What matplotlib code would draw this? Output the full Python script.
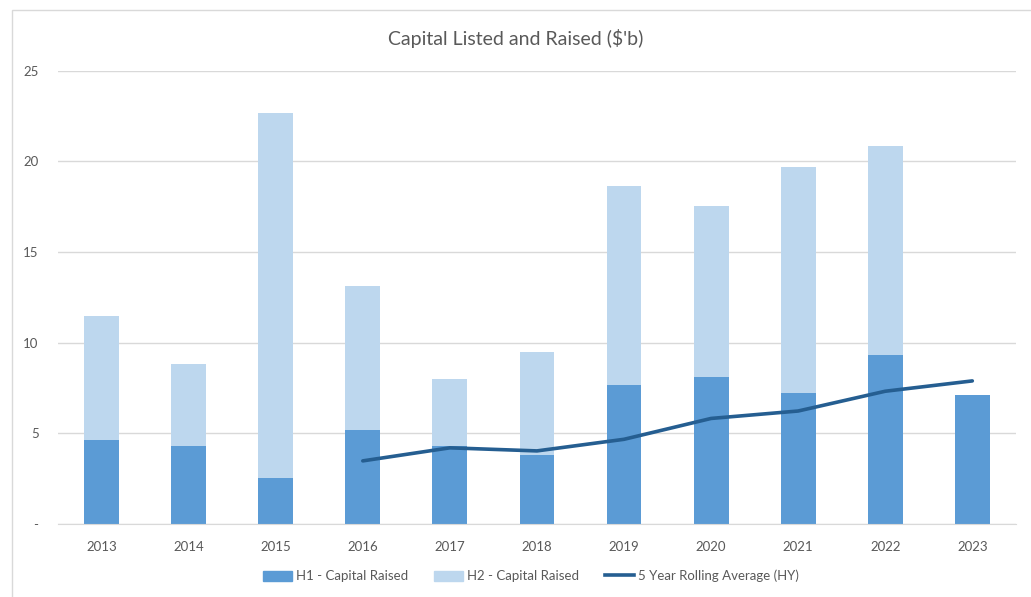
import numpy as np
import matplotlib
matplotlib.use("Agg")
import matplotlib.pyplot as plt
from matplotlib.patches import Rectangle
from matplotlib.lines import Line2D

years = ["2013", "2014", "2015", "2016", "2017", "2018",
         "2019", "2020", "2021", "2022", "2023"]
h1_raised = [4.63, 4.30, 2.53, 5.20, 4.30, 3.81, 7.64, 8.11, 7.25, 9.30, 7.09]
total_raised = [11.46, 8.81, 22.65, 13.13, 8.00, 9.47, 18.63, 17.54, 19.69, 20.82, 7.09]
h2_raised = [t - h for t, h in zip(total_raised, h1_raised)]
rolling_years = ["2016", "2017", "2018", "2019", "2020", "2021", "2022", "2023"]
rolling_avg = [3.48, 4.20, 4.03, 4.67, 5.82, 6.23, 7.32, 7.89]
y_ticks = [0, 5, 10, 15, 20, 25]

H1_COLOR = "#5b9bd5"
H2_COLOR = "#bdd7ee"
LINE_COLOR = "#255e91"
GRID_COLOR = "#d9d9d9"
TEXT_COLOR = "#595959"

plt.rcParams["font.family"] = ["Lato", "DejaVu Sans"]

fig = plt.figure(figsize=(10.31, 5.97), dpi=100)
fig.patches.append(Rectangle((12 / 1031, -0.05), 1.1, 1 - 10 / 597 + 0.05,
                             transform=fig.transFigure, fill=False,
                             edgecolor=GRID_COLOR, linewidth=1.0))

ax = fig.add_axes([0.0563, 0.1223, 0.929, 0.7594])
x = np.arange(len(years))
ax.bar(x, h1_raised, width=0.4, color=H1_COLOR, zorder=2, label="H1 - Capital Raised")
ax.bar(x, h2_raised, width=0.4, bottom=h1_raised, color=H2_COLOR, zorder=2,
       label="H2 - Capital Raised")
xr = [years.index(y) for y in rolling_years]
ax.plot(xr, rolling_avg, color=LINE_COLOR, linewidth=2.6, solid_capstyle="round",
        solid_joinstyle="round", zorder=3, label="5 Year Rolling Average (HY)")

ax.set_xlim(-0.5, len(years) - 0.5)
ax.set_ylim(0, 25)
ax.set_yticks(y_ticks)
ax.set_yticklabels(["-" if v == 0 else str(v) for v in y_ticks])
ax.set_xticks(x)
ax.set_xticklabels(years)
ax.yaxis.grid(True, color=GRID_COLOR, linewidth=1.0, zorder=0)
ax.set_axisbelow(True)
for side in ["top", "right", "left"]:
    ax.spines[side].set_visible(False)
ax.spines["bottom"].set_color(GRID_COLOR)
ax.tick_params(axis="both", length=0, colors=TEXT_COLOR, labelsize=9.5)
ax.tick_params(axis="x", pad=12)
ax.tick_params(axis="y", pad=14)

fig.text(0.5, 1 - 38 / 597, "Capital Listed and Raised ($'b)", ha="center", va="center",
         fontsize=14, color=TEXT_COLOR)

handles = [Rectangle((0, 0), 1, 1, color=H1_COLOR),
           Rectangle((0, 0), 1, 1, color=H2_COLOR),
           Line2D([0], [0], color=LINE_COLOR, linewidth=2.6)]
labels = ["H1 - Capital Raised", "H2 - Capital Raised", "5 Year Rolling Average (HY)"]
fig.legend(handles, labels, loc="center", bbox_to_anchor=(0.515, 1 - 576 / 597),
           ncol=3, frameon=False, fontsize=9.5, labelcolor=TEXT_COLOR,
           handlelength=2.2, handleheight=0.8, handletextpad=0.3, columnspacing=2.0)

fig.savefig("out.png", dpi=100, facecolor="white")
